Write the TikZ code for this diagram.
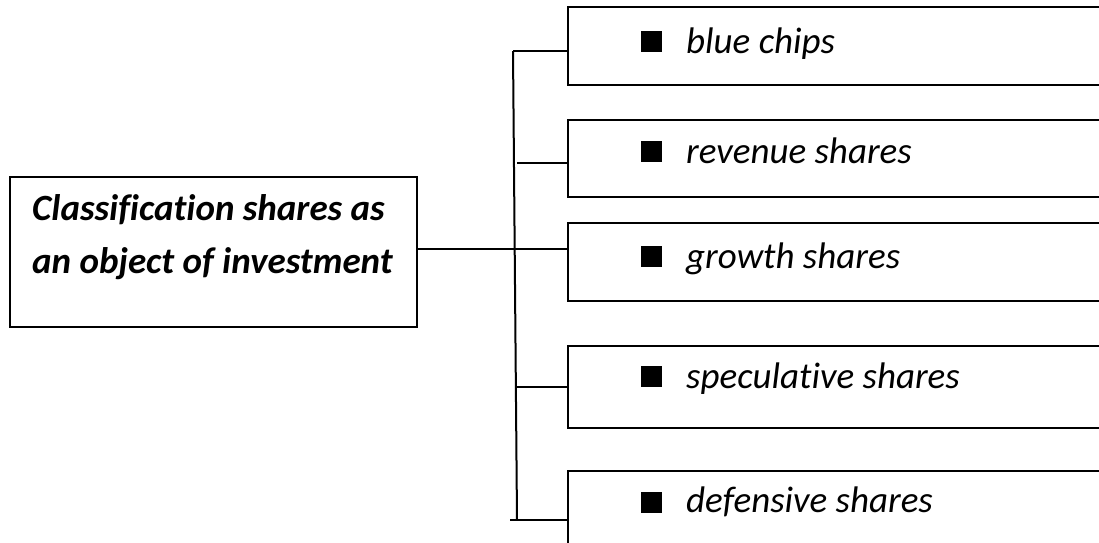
\documentclass[tikz,border=0pt]{standalone}
\usepackage{fontspec}
\setmainfont{Carlito}[Ligatures=NoCommon]
\begin{document}
\begin{tikzpicture}[x=1pt,y=-1pt,
  rbox/.style={draw=black,line width=2pt,minimum width=547pt,inner sep=0pt},
  lbox/.style={draw=black,line width=2.2pt,minimum width=407pt,minimum height=150pt,inner sep=0pt},
  conn/.style={draw=black,line width=1.3pt},
  vline/.style={draw=black,line width=2pt},
  sqbullet/.style={fill=black,minimum size=21pt,inner sep=0pt,anchor=south west},
  item/.style={anchor=base west,inner sep=0pt,font=\fontsize{37}{44}\selectfont\itshape},
  title/.style={anchor=base west,inner sep=0pt,align=left,font=\fontsize{37}{53}\selectfont\bfseries\itshape}]
\useasboundingbox (0,0) rectangle (1099,542);
\clip (0,0) rectangle (1099,542);
% left box
\node[lbox] (lb) at (213.5,252) {};
\node[title] (lt) at (32,273) {Classification shares as\\an object of investment};
% right boxes
\node[rbox,minimum height=78pt] (b1) at (841.5,46) {};
\node[rbox,minimum height=77pt] (b2) at (841.5,158.5) {};
\node[rbox,minimum height=78pt] (b3) at (841.5,262) {};
\node[rbox,minimum height=82pt] (b4) at (841.5,387) {};
\node[rbox,minimum height=82pt] (b5) at (841.5,512) {};
% bullets and texts
\node[sqbullet] (s1) at (641,52) {};
\node[item] (t1) at (686,53) {blue chips};
\node[sqbullet] (s2) at (641,162) {};
\node[item] (t2) at (686,163) {revenue shares};
\node[sqbullet] (s3) at (641,267) {};
\node[item] (t3) at (686,268) {growth shares};
\node[sqbullet] (s4) at (641,387) {};
\node[item] (t4) at (686,388) {speculative shares};
\node[sqbullet] (s5) at (641,513) {};
\node[item] (t5) at (686,512) {defensive shares};
% connector tree
\coordinate (vtop) at (513,51);
\coordinate (vbot) at (517,520);
\coordinate (c2) at (517,163);
\coordinate (c3) at (513,249);
\coordinate (c4) at (516,387);
\coordinate (c5) at (510,520);
\draw[vline] (vtop) -- (vbot);
\draw[conn] (vtop) -- (b1.west |- vtop);
\draw[conn] (c2) -- (b2.west |- c2);
\draw[conn] (lb.east |- c3) -- (b3.west |- c3);
\draw[conn] (c4) -- (b4.west |- c4);
\draw[conn] (c5) -- (b5.west |- c5);
\end{tikzpicture}
\end{document}
